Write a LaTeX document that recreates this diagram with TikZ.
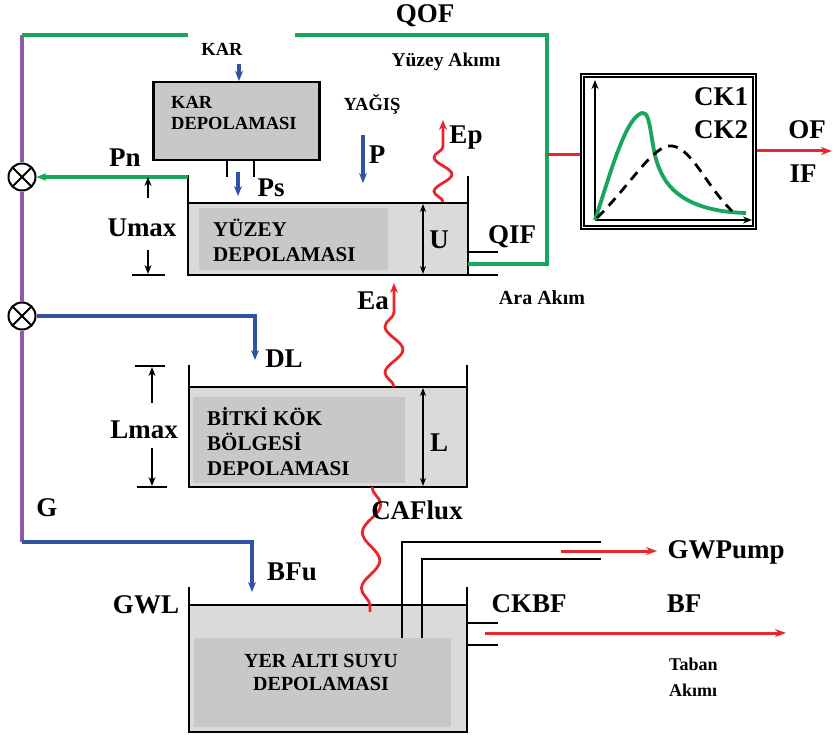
\documentclass[tikz,border=0pt]{standalone}
\usepackage{fontspec}
\setmainfont{Liberation Serif}
\usetikzlibrary{arrows.meta,decorations.pathmorphing,calc}
\definecolor{hgreen}{RGB}{24,166,92}
\definecolor{hblue}{RGB}{47,84,165}
\definecolor{hred}{RGB}{230,40,45}
\definecolor{hpurple}{RGB}{146,86,170}
\definecolor{tanklight}{RGB}{218,218,218}
\definecolor{tankdark}{RGB}{200,200,200}
\tikzset{
  lbl/.style={font=\fontsize{27}{30}\selectfont\bfseries,inner sep=0pt},
  tanktxt/.style={font=\fontsize{21}{25}\selectfont\bfseries,align=left,inner sep=0pt,anchor=west},
  smalltxt/.style={font=\fontsize{18.5}{22}\selectfont\bfseries,inner sep=0pt},
  wall/.style={line width=2.8pt,black},
  pipe/.style={line width=2.2pt,black},
  dimarr/.style={line width=1.8pt,-{Stealth[length=9pt,width=7pt]}},
  flowblue/.style={hblue,line width=3.4pt,-{Stealth[length=10pt,width=8pt]}},
  flowgreen/.style={hgreen,line width=3.8pt},
  flowred/.style={hred,line width=3pt},
  wavy/.style={hred,line width=2.8pt,decorate,
    decoration={snake,amplitude=9pt,segment length=#1,post length=10pt},
    -{Stealth[length=10pt,width=8pt]}},
  mixer/.style={circle,draw,line width=2pt,minimum size=27pt,inner sep=0pt,fill=white,
    path picture={\draw[line width=2pt]
      (path picture bounding box.north west)--(path picture bounding box.south east)
      (path picture bounding box.north east)--(path picture bounding box.south west);}},
}
\begin{document}
\begin{tikzpicture}[x=1pt,y=-1pt]
  \useasboundingbox (0,0) rectangle (834,738);
  % Fills of the stores
  \fill[tanklight] (188,203) rectangle (468,275);
  \fill[tankdark] (199,208) rectangle (388,270);
  \fill[tanklight] (189,387) rectangle (467,487);
  \fill[tankdark] (193,397) rectangle (405,483);
  \fill[tanklight] (189,605) rectangle (467,732);
  \fill[tankdark] (194,638) rectangle (451,727);
  % Mixers and corners
  \node[mixer] (mx1) at (22,177) {};
  \node[mixer] (mx2) at (22,316) {};
  \coordinate (topL) at (22,35);
  \coordinate (qofL) at (188,35);
  \coordinate (qofR) at (295,35);
  \coordinate (gCorner) at (22,542);
  % Snow store
  \node[draw,line width=2.2pt,fill=tankdark,minimum width=166pt,minimum height=78pt] (kar) at (236.5,121) {};
  \node[smalltxt,align=left,anchor=west,font=\fontsize{18.5}{21}\selectfont\bfseries] (karTxt) at (171,112.5) {KAR\\DEPOLAMASI};
  \draw[pipe] (227,160) -- (227,177) (254,160) -- (254,177);
  % Surface store
  \draw[wall] (188,175) -- (188,275) -- (468,275) -- (468,176);
  \draw[wall] (188,203) -- (468,203);
  \node[tanktxt] (yzTxt) at (213,240.5) {YÜZEY\\DEPOLAMASI};
  \draw[pipe] (468,252) -- (498,252) (468,275) -- (498,275);
  % Root zone store
  \draw[wall] (189,365) -- (189,487) -- (467,487) -- (467,365);
  \draw[wall] (189,387) -- (467,387);
  \node[tanktxt] (rzTxt) at (207,442) {BİTKİ KÖK\\BÖLGESİ\\DEPOLAMASI};
  % Groundwater store
  \draw[wall] (189,587) -- (189,732) -- (467,732) -- (467,587);
  \draw[wall] (189,605) -- (467,605);
  \node[tanktxt,anchor=center,align=center,font=\fontsize{20}{23}\selectfont\bfseries] (gwTxt) at (321,672) {YER ALTI SUYU\\DEPOLAMASI};
  \draw[pipe] (402,638) -- (402,542) -- (601,542) (422,638) -- (422,559) -- (601,559);
  \draw[pipe] (467,623) -- (498,623) (467,645) -- (498,645);
  % Routing box
  \node[draw,line width=1.4pt,minimum width=175pt,minimum height=155pt,inner sep=0pt] (ck) at (668.5,151.5) {};
  \draw[line width=2.2pt] ($(ck.north west)+(4,4)$) rectangle ($(ck.south east)+(-4,-4)$);
  \draw[line width=2pt,-{Stealth[length=9pt,width=7pt]}] (595,220) -- (595,80);
  \draw[line width=2pt,-{Stealth[length=9pt,width=7pt]}] (595,220) -- (752,220);
  \draw[hgreen,line width=3.8pt] (595,220) .. controls (610,175) and (625,118) .. (642,113)
    .. controls (652,110) and (650,150) .. (660,170) .. controls (672,200) and (705,212) .. (746,213);
  \draw[line width=2.8pt,dash pattern=on 10pt off 7pt] (597,218) .. controls (630,185) and (650,150) .. (668,146)
    .. controls (690,143) and (705,185) .. (732,211);
  \node[lbl] (ck1) at (721,97) {CK1};
  \node[lbl] (ck2) at (721,130) {CK2};
  % Water paths
  \draw[hpurple,line width=3.4pt] (topL) -- (mx1) (mx1) -- (mx2) (mx2) -- (gCorner);
  \draw[flowgreen] (qofL) -- (topL);
  \coordinate (qifEnd) at (468,264);
  \coordinate (qifUp) at (547,155);
  \draw[flowgreen] (qifEnd) -| (qofR -| qifUp) -- (qofR);
  \coordinate (pnStart) at (188,177);
  \draw[flowgreen,line width=3.4pt,-{Stealth[length=10pt,width=8pt]}] (pnStart) -- (mx1.east);
  \draw[flowred] (qifUp) -- (qifUp -| ck.west);
  \coordinate (ofEnd) at (832,151);
  \draw[flowred,-{Stealth[length=11pt,width=8pt]}] (ck.east |- ofEnd) -- (ofEnd);
  \coordinate (dlTip) at (255,360);
  \draw[flowblue] (mx2.east) -| (dlTip);
  \coordinate (bfuTip) at (252,592);
  \draw[flowblue] (gCorner) -| (bfuTip);
  \draw[flowblue] (239,64) -- (kar.north -| 239,0);
  \draw[flowblue] (238,172) -- (238,196);
  \draw[flowblue] (363,135) -- (363,183);
  \draw[wavy=34pt] (443,202) -- (443,120);
  \draw[wavy=46pt] (394,387) -- (394,283);
  \draw[hred,line width=2.8pt,decorate,decoration={snake,amplitude=9pt,segment length=56pt}] (372,487) -- (370,612);
  \draw[flowred,-{Stealth[length=11pt,width=8pt]}] (561,551) -- (657,551);
  \draw[flowred,-{Stealth[length=11pt,width=8pt]}] (485,633) -- (786,633);
  % Dimensions
  \draw[dimarr] (148,198) -- (148,177);
  \draw[dimarr] (148,250) -- (148,274);
  \draw[line width=2pt] (132,275) -- (165,275);
  \draw[line width=2pt] (135,366) -- (165,366) (137,487) -- (167,487);
  \draw[dimarr] (152,403) -- (152,367);
  \draw[dimarr] (152,448) -- (152,486);
  \draw[line width=1.8pt,{Stealth[length=8pt,width=6pt]}-{Stealth[length=8pt,width=6pt]}] (423,204) -- (423,274);
  \draw[line width=1.8pt,{Stealth[length=8pt,width=6pt]}-{Stealth[length=8pt,width=6pt]}] (423,388) -- (423,486);
  % Labels
  \node[lbl] (qof) at (425,16) {QOF};
  \node[smalltxt,font=\fontsize{19.5}{22}\selectfont\bfseries] (yzAk) at (446,62) {Yüzey Akımı};
  \node[smalltxt] (karL) at (222,49) {KAR};
  \node[smalltxt] (yagis) at (372,104) {YAĞIŞ};
  \node[lbl] (pL) at (377,155) {P};
  \node[lbl] (pnL) at (125,158) {Pn};
  \node[lbl] (psL) at (271,188) {Ps};
  \node[lbl] (umaxL) at (142,228) {Umax};
  \node[lbl] (uL) at (439,240) {U};
  \node[lbl] (qifL) at (512,237) {QIF};
  \node[lbl] (epL) at (466,138) {Ep};
  \node[smalltxt,font=\fontsize{20}{22}\selectfont\bfseries] (araL) at (542,298) {Ara Akım};
  \node[lbl] (ofL) at (807,130) {OF};
  \node[lbl] (ifL) at (803,174) {IF};
  \node[lbl] (eaL) at (373,301) {Ea};
  \node[lbl] (dlL) at (284,359) {DL};
  \node[lbl] (lmaxL) at (144,430) {Lmax};
  \node[lbl] (lL) at (439,443) {L};
  \node[lbl] (gL) at (47,508) {G};
  \node[lbl] (cafL) at (417,510) {CAFlux};
  \node[lbl] (bfuL) at (292,572) {BFu};
  \node[lbl] (gwlL) at (146,605) {GWL};
  \node[lbl] (ckbfL) at (529,604) {CKBF};
  \node[lbl] (bfL) at (684,604) {BF};
  \node[lbl] (gwpL) at (726,552) {GWPump};
  \node[smalltxt,align=left,anchor=west,font=\fontsize{18}{26}\selectfont\bfseries] (tabanL) at (669,677) {Taban\\Akımı};
\end{tikzpicture}
\end{document}
